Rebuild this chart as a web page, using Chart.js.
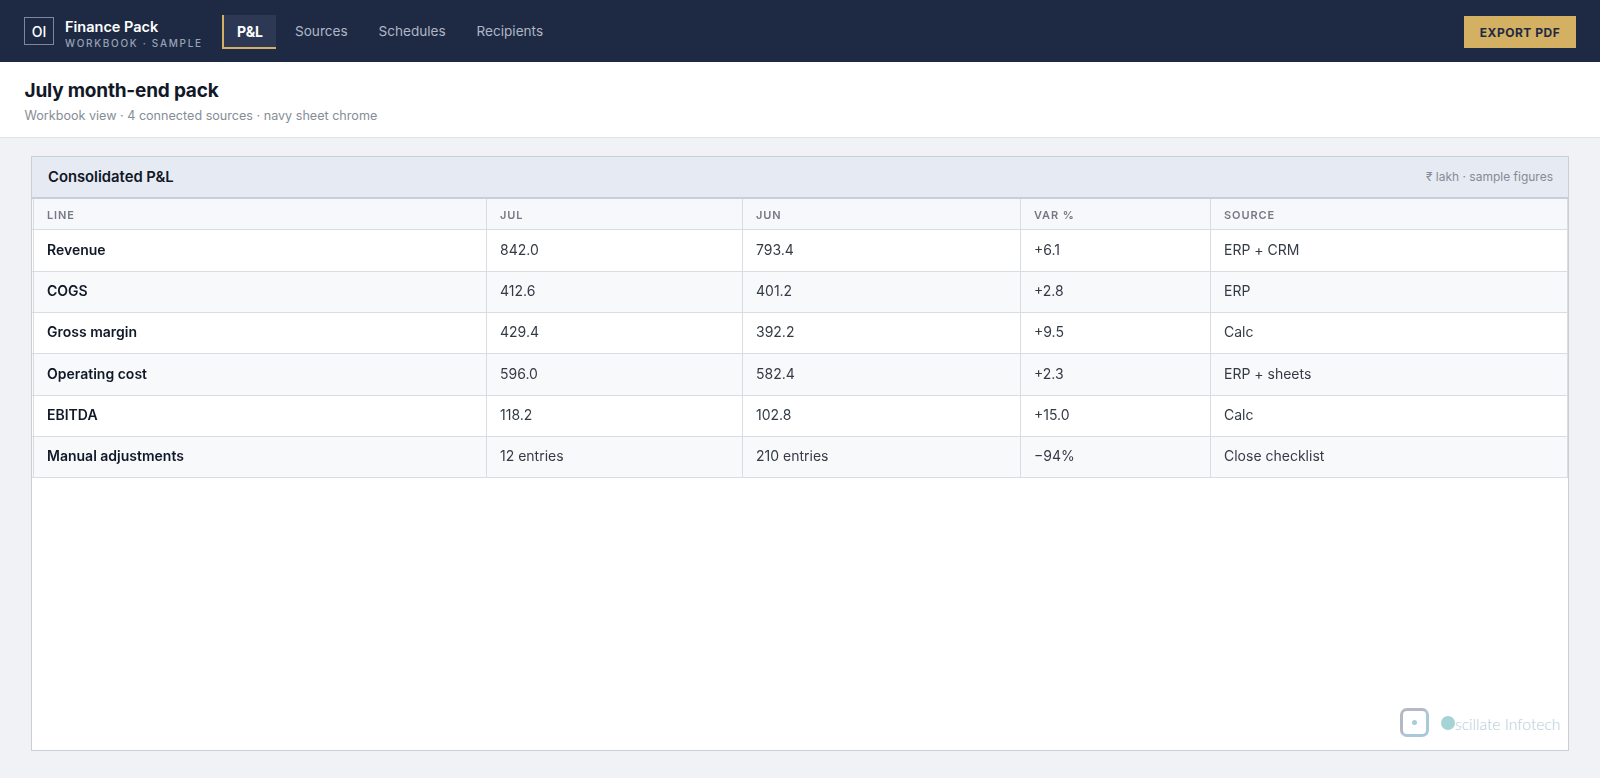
<!DOCTYPE html>
<html><head><meta charset="utf-8">
<style>
*{box-sizing:border-box}
html,body{margin:0;width:1600px;height:778px;overflow:hidden;background:#f0f2f6;font-family:Inter,sans-serif}
.a{position:absolute;white-space:nowrap}
#top{left:0;top:0;width:1600px;height:62px;background:#1e2a44}
#sub{left:0;top:62px;width:1600px;height:76px;background:#fff;border-bottom:1px solid #e1e4ec}
#logo{left:24px;top:17px;width:30px;height:28px;border:1px solid #7d879c;color:#fff;font-size:14px;font-weight:500;display:flex;align-items:center;justify-content:center}
#tab{left:222px;top:15px;width:54px;height:34px;background:#2d3954;border-left:2px solid #d4b062;border-bottom:2px solid #d4b062;color:#fff;font-size:14px;font-weight:700;display:flex;align-items:center;justify-content:center}
.nav{top:22px;font-size:13.6px;color:#aeb6c6;line-height:18px}
#btn{left:1464px;top:16px;width:112px;height:32px;background:#d4b062;color:#1e2a44;font-size:12px;font-weight:700;letter-spacing:.5px;display:flex;align-items:center;justify-content:center}
#panel{left:31px;top:156px;height:595px;width:1538px;border:1px solid #c9cfd9;background:#fff}
#head{left:32px;top:157px;width:1536px;height:42px;background:#e6eaf2;border-bottom:2px solid #c9cfd9}
#chart{position:absolute;left:32px;top:199px}
</style></head><body>
<div class="a" id="top"></div>
<div class="a" id="logo">OI</div>
<div class="a" style="left:65px;top:18px;font-size:14.5px;font-weight:600;color:#fff;line-height:18px">Finance Pack</div>
<div class="a" style="left:65px;top:37px;font-size:10px;font-weight:500;letter-spacing:1.7px;color:#98a2b5;line-height:13px">WORKBOOK · SAMPLE</div>
<div class="a" id="tab">P&amp;L</div>
<div class="a nav" style="left:295px">Sources</div>
<div class="a nav" style="left:378.5px">Schedules</div>
<div class="a nav" style="left:476.5px">Recipients</div>
<div class="a" id="btn">EXPORT PDF</div>
<div class="a" id="sub"></div>
<div class="a" style="left:24.5px;top:78px;font-size:19px;font-weight:700;color:#111827;line-height:26px;letter-spacing:-.2px">July month-end pack</div>
<div class="a" style="left:24.5px;top:107px;font-size:12.6px;color:#868d97;line-height:17px">Workbook view · 4 connected sources · navy sheet chrome</div>
<div class="a" id="panel"></div>
<div class="a" id="head"></div>
<div class="a" style="left:48px;top:167.5px;font-size:14.8px;font-weight:600;color:#111827;line-height:19px">Consolidated P&amp;L</div>
<div class="a" style="right:47px;top:167.5px;font-size:12px;color:#858c96;line-height:17px">₹ lakh · sample figures</div>
<canvas id="chart" width="1536" height="302"></canvas>
<div class="a" style="left:1400px;top:708px;width:29px;height:29px;border:3.5px solid;border-color:#b5b9c4 #a9c8dc #a9c8dc #b5b9c4;border-radius:7px"></div>
<div class="a" style="left:1412px;top:720px;width:5px;height:5px;background:#a8cdd6;border-radius:50%"></div>
<div class="a" style="left:1441px;top:716px;width:14px;height:14px;background:#a5d3d6;border-radius:50%"></div>
<div class="a" style="left:1455px;top:713px;font-family:Lato;font-weight:300;font-size:15.7px;color:#b4cdd8;line-height:22px">scillate Infotech</div>
<script src="https://cdn.jsdelivr.net/npm/chart.js@4"></script>
<script>
const columns = ['LINE', 'JUL', 'JUN', 'VAR %', 'SOURCE'];
const rows = ['Revenue', 'COGS', 'Gross margin', 'Operating cost', 'EBITDA', 'Manual adjustments'];
const jul = ['842.0', '412.6', '429.4', '596.0', '118.2', '12 entries'];
const jun = ['793.4', '401.2', '392.2', '582.4', '102.8', '210 entries'];
const varPct = ['+6.1', '+2.8', '+9.5', '+2.3', '+15.0', '−94%'];
const source = ['ERP + CRM', 'ERP', 'Calc', 'ERP + sheets', 'Calc', 'Close checklist'];

const columnEdges = [1, 454, 710, 988, 1178, 1535];
const FONT = 'Inter, sans-serif';
const LINE = '#d8dce3';
const CELLPAD = 14;

function column(name, values, idx) {
  return {
    label: name, pointRadius: 0, pointHoverRadius: 0,
    data: rows.map((r, i) => ({ x: columnEdges[idx], y: r, text: values[i] }))
  };
}

const tablePlugin = {
  id: 'tableCells',
  beforeDraw(chart) {
    const { ctx, scales: { x, y }, chartArea: a } = chart;
    ctx.save();
    ctx.fillStyle = '#f7f8fb';
    ctx.fillRect(a.left, 0, a.right - a.left, a.top);
    const h = y.getPixelForValue(1) - y.getPixelForValue(0);
    rows.forEach((r, i) => {
      if (i % 2) {
        ctx.fillStyle = '#f7f9fb';
        ctx.fillRect(a.left, y.getPixelForValue(i) - h / 2, a.right - a.left, h);
      }
    });
    ctx.restore();
  },
  afterDatasetsDraw(chart) {
    const { ctx } = chart;
    ctx.save();
    ctx.font = '400 14px ' + FONT;
    ctx.fillStyle = '#343b45';
    ctx.textAlign = 'left';
    ctx.textBaseline = 'middle';
    chart.data.datasets.forEach((ds, d) => {
      chart.getDatasetMeta(d).data.forEach((pt, i) => {
        ctx.fillText(ds.data[i].text, pt.x + CELLPAD, pt.y);
      });
    });
    ctx.restore();
  }
};

new Chart(document.getElementById('chart'), {
  type: 'scatter',
  data: { datasets: [column('JUL', jul, 1), column('JUN', jun, 2), column('VAR %', varPct, 3), column('SOURCE', source, 4)] },
  plugins: [tablePlugin],
  options: {
    responsive: false, animation: false, devicePixelRatio: 1,
    layout: { padding: 0 },
    plugins: { legend: { display: false }, tooltip: { enabled: false } },
    scales: {
      x: {
        type: 'linear', position: 'top', min: 0, max: 1536,
        afterBuildTicks(s) { s.ticks = columnEdges.map(v => ({ value: v })); },
        afterFit(s) {
          s.height = 31;
          if (!s._spaced) {
            s._spaced = true;
            const draw = s.drawLabels;
            s.drawLabels = function (area) {
              s.ctx.letterSpacing = '0.9px';
              draw.call(s, area);
              s.ctx.letterSpacing = '0px';
            };
          }
        },
        grid: { color: LINE, lineWidth: 1, drawTicks: true, tickLength: 31, tickColor: LINE },
        border: { display: false },
        ticks: {
          autoSkip: false, maxRotation: 0, minRotation: 0, align: 'start',
          labelOffset: CELLPAD, padding: -23,
          color: '#737a84', font: { family: FONT, size: 11, weight: '600' },
          callback: (v, i) => columns[i] || ''
        }
      },
      y: {
        type: 'category', labels: rows, offset: true,
        afterFit(s) { s.width = 0; },
        grid: { color: LINE, lineWidth: 1, offset: true, drawTicks: false },
        border: { display: false },
        ticks: {
          mirror: true, padding: CELLPAD + 1, autoSkip: false,
          color: '#111827', font: { family: FONT, size: 14, weight: '600' }
        }
      }
    }
  }
});
</script>
</body></html>
